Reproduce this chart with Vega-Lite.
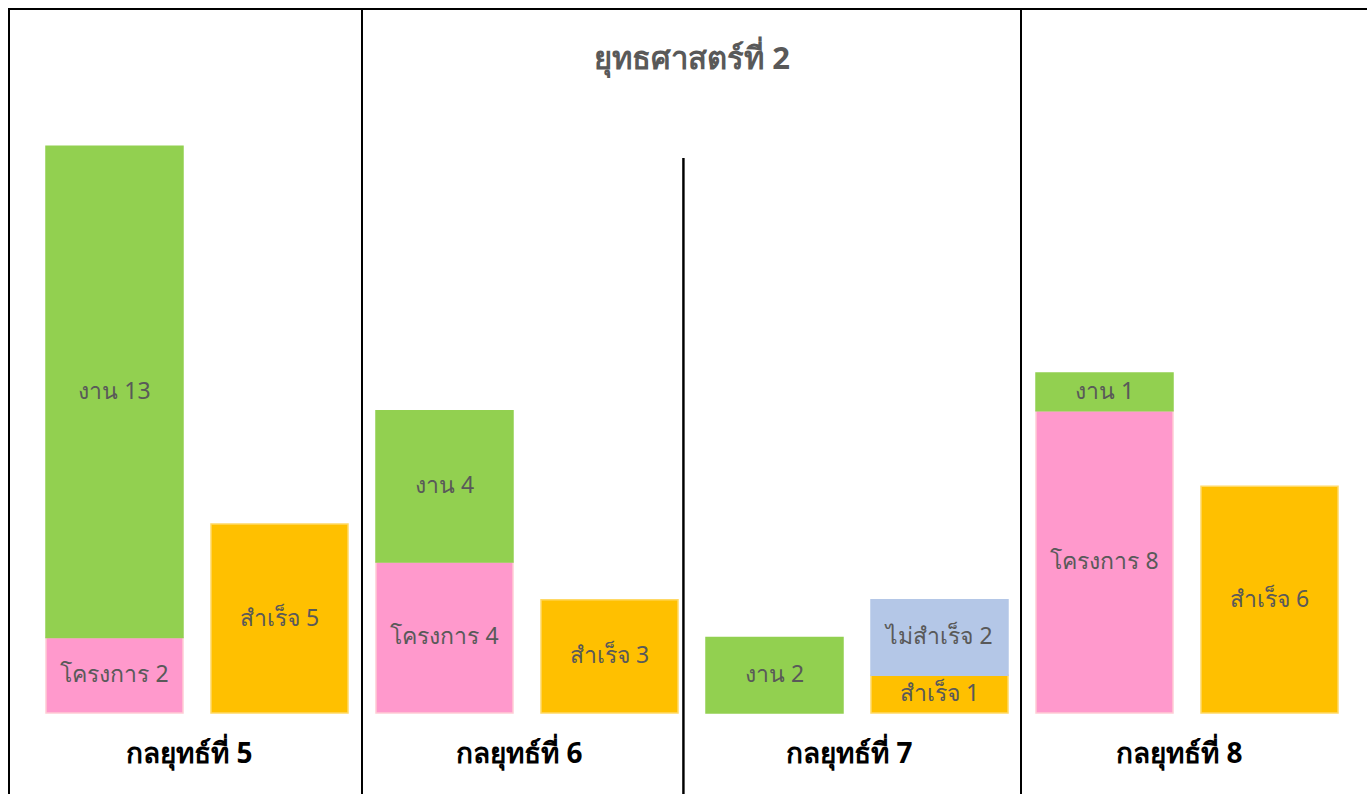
{
  "$schema": "https://vega.github.io/schema/vega-lite/v6.json",
  "width": 1366,
  "height": 800,
  "autosize": {"type": "none"},
  "padding": {"left": 9, "top": 9, "right": 0, "bottom": 0},
  "background": "white",
  "config": {
    "view": {"stroke": "black", "strokeWidth": 2},
    "font": "Noto Sans"
  },
  "title": {
    "text": "ยุทธศาสตร์ที่ 2",
    "fontSize": 31,
    "fontWeight": "bold",
    "color": "#595959",
    "anchor": "middle",
    "baseline": "middle",
    "offset": -83
  },
  "datasets": {
    "segments": [
      {"group": "5", "bar": "5a", "cat": "โครงการ", "ord": 1, "value": 2, "label": "โครงการ 2"},
      {"group": "5", "bar": "5a", "cat": "งาน", "ord": 2, "value": 13, "label": "งาน 13"},
      {"group": "5", "bar": "5b", "cat": "สำเร็จ", "ord": 1, "value": 5, "label": "สำเร็จ 5"},
      {"group": "6", "bar": "6a", "cat": "โครงการ", "ord": 1, "value": 4, "label": "โครงการ 4"},
      {"group": "6", "bar": "6a", "cat": "งาน", "ord": 2, "value": 4, "label": "งาน 4"},
      {"group": "6", "bar": "6b", "cat": "สำเร็จ", "ord": 1, "value": 3, "label": "สำเร็จ 3"},
      {"group": "7", "bar": "7a", "cat": "งาน", "ord": 2, "value": 2, "label": "งาน 2"},
      {"group": "7", "bar": "7b", "cat": "สำเร็จ", "ord": 1, "value": 1, "label": "สำเร็จ 1"},
      {"group": "7", "bar": "7b", "cat": "ไม่สำเร็จ", "ord": 2, "value": 2, "label": "ไม่สำเร็จ 2"},
      {"group": "8", "bar": "8a", "cat": "โครงการ", "ord": 1, "value": 8, "label": "โครงการ 8"},
      {"group": "8", "bar": "8a", "cat": "งาน", "ord": 2, "value": 1, "label": "งาน 1"},
      {"group": "8", "bar": "8b", "cat": "สำเร็จ", "ord": 1, "value": 6, "label": "สำเร็จ 6"}
    ],
    "groups": [
      {"bar": "5a", "name": "กลยุทธ์ที่ 5"},
      {"bar": "6a", "name": "กลยุทธ์ที่ 6"},
      {"bar": "7a", "name": "กลยุทธ์ที่ 7"},
      {"bar": "8a", "name": "กลยุทธ์ที่ 8"}
    ]
  },
  "data": {"name": "segments"},
  "encoding": {
    "x": {
      "field": "bar",
      "type": "nominal",
      "axis": null,
      "scale": {
        "domain": ["5a", "5b", "6a", "6b", "7a", "7b", "8a", "8b"],
        "paddingInner": 0.1697,
        "paddingOuter": 0.2242
      }
    }
  },
  "layer": [
    {
      "mark": {"type": "bar", "strokeWidth": 1.5},
      "encoding": {
        "y": {
          "field": "value",
          "type": "quantitative",
          "stack": "zero",
          "axis": null,
          "scale": {"domain": [-2.541, 18.634], "nice": false, "zero": false}
        },
        "order": {"field": "ord", "type": "quantitative"},
        "color": {
          "field": "cat",
          "type": "nominal",
          "legend": null,
          "scale": {
            "domain": ["งาน", "โครงการ", "สำเร็จ", "ไม่สำเร็จ"],
            "range": ["#92D050", "#FF99CC", "#FFC000", "#B4C7E7"]
          }
        },
        "stroke": {
          "field": "cat",
          "type": "nominal",
          "legend": null,
          "scale": {
            "domain": ["งาน", "โครงการ", "สำเร็จ", "ไม่สำเร็จ"],
            "range": ["#92D050", "#FFCCD5", "#FFD966", "#B4C7E7"]
          }
        }
      }
    },
    {
      "mark": {"type": "text", "fontSize": 23, "color": "#595959", "baseline": "middle", "align": "center"},
      "encoding": {
        "y": {"field": "value", "type": "quantitative", "stack": "zero", "bandPosition": 0.5},
        "order": {"field": "ord", "type": "quantitative"},
        "text": {"field": "label", "type": "nominal"}
      }
    },
    {
      "data": {"name": "groups"},
      "mark": {"type": "text", "fontSize": 28, "fontWeight": "bold", "color": "black", "baseline": "middle", "align": "center"},
      "encoding": {
        "x": {"field": "bar", "type": "nominal", "bandPosition": 1.047},
        "y": {"datum": -1.112},
        "text": {"field": "name", "type": "nominal"}
      }
    },
    {
      "mark": {"type": "rule", "color": "black", "strokeWidth": 1.2},
      "encoding": {
        "x": {"datum": "5b", "bandPosition": 1.1}
      }
    },
    {
      "mark": {"type": "rule", "color": "black", "strokeWidth": 1.2},
      "encoding": {
        "x": {"datum": "7b", "bandPosition": 1.095}
      }
    },
    {
      "mark": {"type": "rule", "color": "black", "strokeWidth": 1.2},
      "encoding": {
        "x": {"datum": "6b", "bandPosition": 1.04},
        "y": {"datum": 14.69},
        "y2": {"datum": -2.541}
      }
    }
  ]
}
